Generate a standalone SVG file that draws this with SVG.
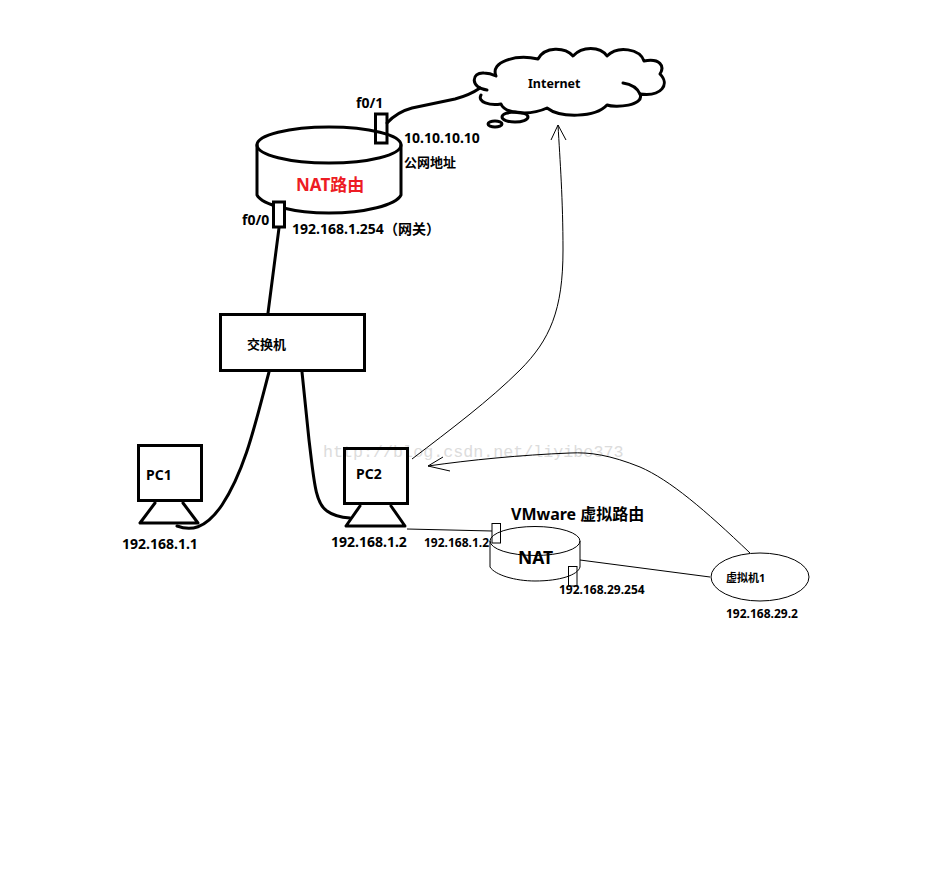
<svg xmlns="http://www.w3.org/2000/svg" width="926" height="880" viewBox="0 0 926 880">
<style>
.h{fill:none;stroke:#000;stroke-width:3;stroke-linejoin:round;stroke-linecap:round}
.t{fill:none;stroke:#000;stroke-width:1}
text{font-family:"Noto Sans","Noto Sans CJK SC",sans-serif;font-weight:700;fill:#000;font-size:14px}
.wm{font-family:"Liberation Mono",monospace;font-weight:400;fill:#dcdcdc;font-size:16.7px}
</style>
<rect width="926" height="880" fill="#fff"/>
<text class="wm" x="323" y="457">http://blog.csdn.net/liyibo373</text>
<g id="connectors">
<path class="h" d="M387 123Q397 112 412 108L455 99Q470 95 480 88"/>
<path class="h" d="M279 228L268 313"/>
<path class="h" d="M269 372C255 425 245 470 222 505C205 530 190 531 177 526"/>
<path class="h" d="M302 372L309 440C314 480 315 503 327 511Q335 517 350 518"/>
<path class="t" d="M407 529L450 530L492 531"/>
<path class="t" d="M580 560L710 577"/>
<path class="t" d="M750 553C705 510 670 480 640 467C610 455 590 452 570 453C520 455 470 460 428 466M443 457L428 466L450 471"/>
<path class="t" d="M412 459C450 430 490 400 520 370C550 340 563 310 563 250C563 200 560 160 558 125M551 140L558 125L566 140"/>
</g>
<g id="internet">
<path class="h" d="M487 90C470 88 471 72 484 73Q490 73 496 76C490 62 515 54 538 59C545 46 565 47 573 56C582 46 600 46 607 56C618 45 640 49 644 61C660 58 665 66 660 74C670 84 662 97 640 94C645 106 615 108 607 105C595 118 560 118 547 108C530 116 505 114 501 104C490 106 477 102 481 95"/>
<path class="h" d="M623 83Q636 85 640 94"/>
<ellipse class="h" cx="515" cy="117" rx="13" ry="5" stroke-width="2.5"/>
<ellipse class="h" cx="495" cy="124" rx="7" ry="3" stroke-width="2.5"/>
<text x="528" y="88" style="font-size:12.5px">Internet</text>
</g>
<g id="nat-router">
<ellipse class="h" cx="329" cy="145" rx="72" ry="18"/>
<path class="h" d="M257 145V195C262 205 295 213 329 213C365 213 396 205 401 195V145"/>
<text x="296" y="191" style="font-size:17px;fill:#ed1c24">NAT路由</text>
<rect x="375.500" y="114" width="11.500" height="29" fill="none" stroke="#000" stroke-width="3"/>
<rect x="273.500" y="202" width="11" height="25" fill="#fff" stroke="#000" stroke-width="3"/>
<text x="356" y="108">f0/1</text>
<text x="242" y="225">f0/0</text>
<text x="404" y="143">10.10.10.10</text>
<text x="404" y="167" style="font-size:13px">公网地址</text>
<text x="292" y="234">192.168.1.254（网关）</text>
</g>
<g id="switch">
<rect x="220.500" y="314.500" width="144" height="56" fill="#fff" stroke="#000" stroke-width="3"/>
<text x="247" y="349" style="font-size:13px">交换机</text>
</g>
<g id="pc1">
<rect x="138.500" y="445.500" width="63" height="55" fill="none" stroke="#000" stroke-width="3"/>
<path class="h" d="M155 503L140 523H198L183 503"/>
<text x="146" y="480">PC1</text>
<text x="122" y="549">192.168.1.1</text>
</g>
<g id="pc2">
<rect x="344.500" y="448.500" width="63" height="55" fill="none" stroke="#000" stroke-width="3"/>
<path class="h" d="M360 506L346 526H405L391 506"/>
<text x="356" y="479">PC2</text>
<text x="331" y="547">192.168.1.2</text>
</g>
<g id="vmware-router">
<ellipse class="t" cx="535" cy="541" rx="45" ry="14.500"/>
<path class="t" d="M490 541V567C495 575 515 581 535 581C560 581 578 575 580 567V541"/>
<rect class="t" x="492" y="523.500" width="8.500" height="19.500"/>
<rect class="t" x="568.500" y="566.500" width="8.500" height="19.500"/>
<text x="511" y="520" style="font-size:16px">VMware 虚拟路由</text>
<text x="518" y="564" style="font-size:17.500px">NAT</text>
<text x="424" y="547" style="font-size:12px">192.168.1.2</text>
<text x="559" y="594" style="font-size:12px">192.168.29.254</text>
</g>
<g id="vm1">
<ellipse class="t" cx="760" cy="577" rx="49" ry="24"/>
<text x="726" y="582" style="font-size:11px">虚拟机1</text>
<text x="726" y="618" style="font-size:12px">192.168.29.2</text>
</g>
</svg>
